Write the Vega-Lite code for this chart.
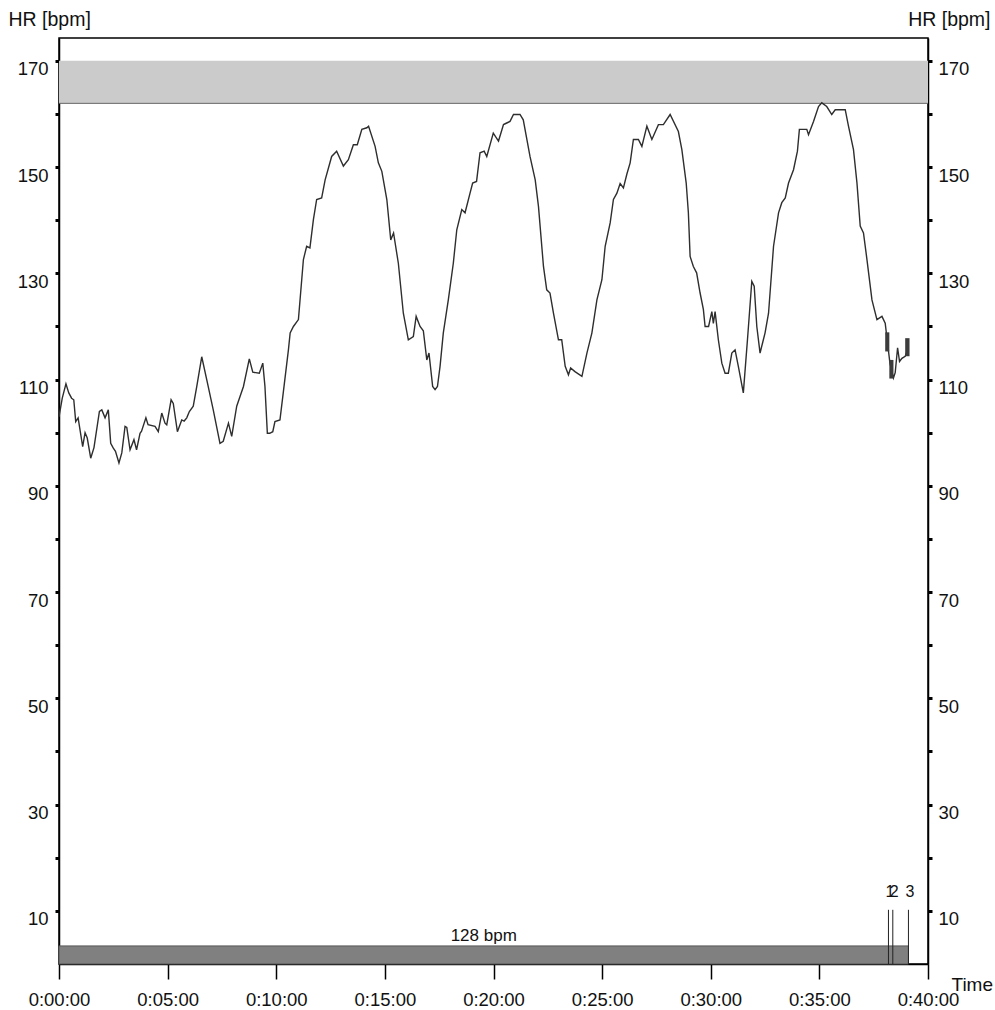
{
  "$schema": "https://vega.github.io/schema/vega-lite/v6.json",
  "width": 869,
  "height": 926,
  "autosize": {"type": "none"},
  "padding": {"left": 59, "top": 38, "right": 67, "bottom": 46},
  "background": "white",
  "config": {
    "font": "Liberation Sans",
    "view": {"stroke": "#000", "strokeWidth": 1.5},
    "axis": {
      "domainColor": "#000",
      "domainWidth": 1.5,
      "tickColor": "#000",
      "labelColor": "#111",
      "titleColor": "#111",
      "labelFont": "Liberation Sans",
      "titleFont": "Liberation Sans",
      "titleFontWeight": "normal",
      "grid": false,
      "labelOverlap": false,
      "labelFlush": false,
      "labelBound": false
    }
  },
  "datasets": {
    "hr": [
      {"t": 0.00, "hr": 103.0}, {"t": 0.15, "hr": 106.5}, {"t": 0.32, "hr": 109.2}, {"t": 0.45, "hr": 107.5},
      {"t": 0.58, "hr": 106.5}, {"t": 0.68, "hr": 106.2}, {"t": 0.77, "hr": 102.1}, {"t": 0.88, "hr": 102.8},
      {"t": 1.09, "hr": 97.4}, {"t": 1.20, "hr": 100.0}, {"t": 1.30, "hr": 99.0}, {"t": 1.46, "hr": 95.2},
      {"t": 1.61, "hr": 97.2}, {"t": 1.86, "hr": 104.0}, {"t": 1.97, "hr": 104.3}, {"t": 2.12, "hr": 102.8},
      {"t": 2.27, "hr": 104.3}, {"t": 2.38, "hr": 98.0}, {"t": 2.50, "hr": 97.1}, {"t": 2.60, "hr": 96.5},
      {"t": 2.76, "hr": 94.3}, {"t": 2.89, "hr": 96.2}, {"t": 3.04, "hr": 101.2}, {"t": 3.12, "hr": 101.0},
      {"t": 3.27, "hr": 96.8}, {"t": 3.45, "hr": 98.7}, {"t": 3.57, "hr": 96.8}, {"t": 3.73, "hr": 99.9},
      {"t": 3.80, "hr": 100.3}, {"t": 4.00, "hr": 102.8}, {"t": 4.10, "hr": 101.5}, {"t": 4.42, "hr": 101.2},
      {"t": 4.57, "hr": 100.2}, {"t": 4.73, "hr": 103.7}, {"t": 4.88, "hr": 101.8}, {"t": 4.96, "hr": 101.5},
      {"t": 5.16, "hr": 106.2}, {"t": 5.26, "hr": 105.5}, {"t": 5.45, "hr": 100.2}, {"t": 5.65, "hr": 102.4},
      {"t": 5.76, "hr": 102.2}, {"t": 5.88, "hr": 102.8}, {"t": 6.00, "hr": 104.0}, {"t": 6.18, "hr": 105.0},
      {"t": 6.34, "hr": 108.7}, {"t": 6.57, "hr": 114.3}, {"t": 6.80, "hr": 110.0}, {"t": 7.10, "hr": 104.3},
      {"t": 7.41, "hr": 98.0}, {"t": 7.56, "hr": 98.4}, {"t": 7.80, "hr": 101.8}, {"t": 7.95, "hr": 99.3},
      {"t": 8.18, "hr": 105.0}, {"t": 8.49, "hr": 108.7}, {"t": 8.76, "hr": 113.9}, {"t": 8.92, "hr": 111.4},
      {"t": 9.22, "hr": 111.2}, {"t": 9.38, "hr": 113.1}, {"t": 9.48, "hr": 108.7}, {"t": 9.59, "hr": 99.9},
      {"t": 9.70, "hr": 99.9}, {"t": 9.84, "hr": 100.2}, {"t": 9.94, "hr": 102.1}, {"t": 10.17, "hr": 102.4},
      {"t": 10.33, "hr": 107.8}, {"t": 10.56, "hr": 115.6}, {"t": 10.64, "hr": 118.8}, {"t": 10.79, "hr": 120.0},
      {"t": 11.02, "hr": 121.3}, {"t": 11.25, "hr": 132.6}, {"t": 11.40, "hr": 135.1}, {"t": 11.55, "hr": 134.8},
      {"t": 11.71, "hr": 140.1}, {"t": 11.86, "hr": 143.9}, {"t": 12.09, "hr": 144.2}, {"t": 12.25, "hr": 147.6},
      {"t": 12.55, "hr": 152.0}, {"t": 12.78, "hr": 153.0}, {"t": 13.09, "hr": 150.2}, {"t": 13.32, "hr": 151.4},
      {"t": 13.55, "hr": 154.2}, {"t": 13.73, "hr": 154.2}, {"t": 13.94, "hr": 157.1}, {"t": 14.17, "hr": 157.4},
      {"t": 14.25, "hr": 157.7}, {"t": 14.55, "hr": 153.9}, {"t": 14.70, "hr": 150.8}, {"t": 14.86, "hr": 149.2},
      {"t": 15.09, "hr": 143.9}, {"t": 15.27, "hr": 136.3}, {"t": 15.40, "hr": 137.6}, {"t": 15.62, "hr": 131.9},
      {"t": 15.85, "hr": 122.5}, {"t": 16.08, "hr": 117.5}, {"t": 16.31, "hr": 118.1}, {"t": 16.44, "hr": 121.9},
      {"t": 16.62, "hr": 120.0}, {"t": 16.77, "hr": 119.2}, {"t": 16.93, "hr": 113.7}, {"t": 17.03, "hr": 115.0},
      {"t": 17.20, "hr": 108.7}, {"t": 17.31, "hr": 108.1}, {"t": 17.42, "hr": 108.7}, {"t": 17.54, "hr": 112.5},
      {"t": 17.69, "hr": 118.8}, {"t": 17.92, "hr": 125.0}, {"t": 18.15, "hr": 131.9}, {"t": 18.31, "hr": 138.2},
      {"t": 18.54, "hr": 142.0}, {"t": 18.69, "hr": 141.4}, {"t": 18.92, "hr": 145.1}, {"t": 19.04, "hr": 147.0},
      {"t": 19.22, "hr": 147.3}, {"t": 19.38, "hr": 152.7}, {"t": 19.57, "hr": 153.0}, {"t": 19.69, "hr": 152.0},
      {"t": 19.99, "hr": 156.4}, {"t": 20.23, "hr": 154.9}, {"t": 20.46, "hr": 158.0}, {"t": 20.61, "hr": 158.3},
      {"t": 20.76, "hr": 158.6}, {"t": 20.92, "hr": 159.9}, {"t": 21.22, "hr": 159.9}, {"t": 21.37, "hr": 158.9},
      {"t": 21.68, "hr": 152.0}, {"t": 21.92, "hr": 147.6}, {"t": 22.07, "hr": 142.6}, {"t": 22.30, "hr": 131.3},
      {"t": 22.45, "hr": 126.9}, {"t": 22.60, "hr": 126.3}, {"t": 22.76, "hr": 122.5}, {"t": 22.99, "hr": 117.5},
      {"t": 23.14, "hr": 117.5}, {"t": 23.30, "hr": 112.5}, {"t": 23.45, "hr": 110.9}, {"t": 23.55, "hr": 112.2},
      {"t": 23.75, "hr": 111.5}, {"t": 24.07, "hr": 110.6}, {"t": 24.30, "hr": 115.0}, {"t": 24.53, "hr": 118.8},
      {"t": 24.76, "hr": 125.0}, {"t": 24.99, "hr": 128.8}, {"t": 25.14, "hr": 135.1}, {"t": 25.37, "hr": 139.5},
      {"t": 25.52, "hr": 143.9}, {"t": 25.68, "hr": 145.1}, {"t": 25.83, "hr": 146.9}, {"t": 25.98, "hr": 146.1},
      {"t": 26.14, "hr": 148.7}, {"t": 26.29, "hr": 150.8}, {"t": 26.44, "hr": 155.2}, {"t": 26.67, "hr": 155.2},
      {"t": 26.83, "hr": 153.9}, {"t": 27.06, "hr": 157.7}, {"t": 27.29, "hr": 155.2}, {"t": 27.59, "hr": 158.0},
      {"t": 27.82, "hr": 158.0}, {"t": 28.13, "hr": 159.9}, {"t": 28.51, "hr": 156.7}, {"t": 28.67, "hr": 153.3},
      {"t": 28.87, "hr": 147.0}, {"t": 28.97, "hr": 141.4}, {"t": 29.05, "hr": 133.2}, {"t": 29.20, "hr": 131.3},
      {"t": 29.35, "hr": 130.1}, {"t": 29.51, "hr": 126.3}, {"t": 29.66, "hr": 123.2}, {"t": 29.74, "hr": 120.0},
      {"t": 29.90, "hr": 120.0}, {"t": 30.05, "hr": 122.8}, {"t": 30.12, "hr": 120.6}, {"t": 30.20, "hr": 122.8},
      {"t": 30.35, "hr": 117.5}, {"t": 30.51, "hr": 113.1}, {"t": 30.66, "hr": 111.2}, {"t": 30.81, "hr": 111.2},
      {"t": 30.97, "hr": 115.0}, {"t": 31.12, "hr": 115.6}, {"t": 31.27, "hr": 112.5}, {"t": 31.50, "hr": 107.5},
      {"t": 31.69, "hr": 117.5}, {"t": 31.89, "hr": 128.5}, {"t": 32.00, "hr": 127.6}, {"t": 32.12, "hr": 120.0},
      {"t": 32.27, "hr": 115.0}, {"t": 32.50, "hr": 118.8}, {"t": 32.66, "hr": 122.5}, {"t": 32.89, "hr": 135.1},
      {"t": 33.12, "hr": 141.4}, {"t": 33.27, "hr": 143.3}, {"t": 33.43, "hr": 144.2}, {"t": 33.58, "hr": 147.0},
      {"t": 33.81, "hr": 149.5}, {"t": 33.99, "hr": 153.0}, {"t": 34.08, "hr": 157.1}, {"t": 34.42, "hr": 157.1},
      {"t": 34.50, "hr": 156.1}, {"t": 34.73, "hr": 158.6}, {"t": 34.96, "hr": 161.4}, {"t": 35.11, "hr": 162.1},
      {"t": 35.34, "hr": 161.4}, {"t": 35.57, "hr": 159.9}, {"t": 35.73, "hr": 160.8}, {"t": 36.19, "hr": 160.8},
      {"t": 36.34, "hr": 157.7}, {"t": 36.57, "hr": 153.3}, {"t": 36.73, "hr": 147.0}, {"t": 36.88, "hr": 138.9},
      {"t": 37.03, "hr": 137.6}, {"t": 37.19, "hr": 132.6}, {"t": 37.42, "hr": 125.0}, {"t": 37.65, "hr": 121.3},
      {"t": 37.88, "hr": 121.9}, {"t": 38.03, "hr": 120.6}, {"t": 38.12, "hr": 117.5}, {"t": 38.25, "hr": 113.0},
      {"t": 38.41, "hr": 110.3}, {"t": 38.49, "hr": 111.3}, {"t": 38.60, "hr": 116.0}, {"t": 38.69, "hr": 113.4},
      {"t": 38.80, "hr": 114.0}, {"t": 38.95, "hr": 114.4}, {"t": 39.10, "hr": 116.0}
    ],
    "laps": [
      {"t": 38.18, "lap": "1"},
      {"t": 38.38, "lap": "2"},
      {"t": 39.10, "lap": "3"}
    ],
    "blocks": [
      {"t0": 38.03, "t1": 38.22, "lo": 115.3, "hi": 118.9},
      {"t0": 38.22, "t1": 38.41, "lo": 110.2, "hi": 113.7},
      {"t0": 38.95, "t1": 39.15, "lo": 114.4, "hi": 117.8}
    ],
    "zone": [{"t0": 0, "t1": 40, "lo": 162, "hi": 170}],
    "avg": [{"t0": 0, "t1": 39.1, "lo": 0, "hi": 3.4, "tm": 19.55, "ty": 4.3, "label": "128 bpm"}]
  },
  "layer": [
    {
      "data": {"name": "zone"},
      "mark": {"type": "rect", "fill": "#cbcbcb"},
      "encoding": {
        "x": {
          "field": "t0", "type": "quantitative",
          "scale": {"domain": [0, 40], "nice": false, "zero": false},
          "title": "Time",
          "axis": {
            "orient": "bottom",
            "values": [0, 5, 10, 15, 20, 25, 30, 35, 40],
            "labelExpr": "'0:' + (datum.value < 10 ? '0' : '') + datum.value + ':00'",
            "tickSize": 15, "tickWidth": 1.5,
            "labelFontSize": 18.5, "labelBaseline": "alphabetic", "labelPadding": 26, "labelAlign": "center",
            "titleFontSize": 19, "titleX": 892, "titleY": 26, "titleAlign": "left", "titleBaseline": "alphabetic"
          }
        },
        "x2": {"field": "t1"},
        "y": {
          "field": "lo", "type": "quantitative",
          "scale": {"domain": [0, 174.3], "nice": false, "zero": true},
          "title": "HR [bpm]",
          "axis": {
            "orient": "left",
            "values": [10, 20, 30, 40, 50, 60, 70, 80, 90, 100, 110, 120, 130, 140, 150, 160, 170],
            "labelExpr": "datum.value % 20 == 10 ? datum.value : ''",
            "tickSize": 4, "tickWidth": 3,
            "labelFontSize": 18.5, "labelBaseline": "alphabetic", "labelOffset": 14, "labelPadding": 7,
            "titleAngle": 0, "titleFontSize": 19.5, "titleX": -51, "titleY": -13, "titleAlign": "left", "titleBaseline": "alphabetic"
          }
        },
        "y2": {"field": "hi"}
      }
    },
    {
      "data": {"name": "zone"},
      "mark": {"type": "rule", "stroke": "#666", "strokeWidth": 1},
      "encoding": {
        "x": {"field": "t0", "type": "quantitative", "title": "Time", "scale": {"domain": [0, 40], "nice": false, "zero": false}},
        "x2": {"field": "t1"},
        "y": {"field": "lo", "type": "quantitative", "axis": null, "scale": {"domain": [0, 174.3], "nice": false}}
      }
    },
    {
      "data": {"name": "avg"},
      "mark": {"type": "rect", "fill": "#808080", "stroke": "#555", "strokeWidth": 1},
      "encoding": {
        "x": {"field": "t0", "type": "quantitative", "title": "Time", "scale": {"domain": [0, 40], "nice": false, "zero": false}},
        "x2": {"field": "t1"},
        "y": {"field": "lo", "type": "quantitative", "axis": null, "scale": {"domain": [0, 174.3], "nice": false}},
        "y2": {"field": "hi"}
      }
    },
    {
      "data": {"name": "avg"},
      "mark": {"type": "text", "fontSize": 17, "font": "Liberation Sans", "color": "#111", "align": "center", "baseline": "alphabetic"},
      "encoding": {
        "x": {"field": "tm", "type": "quantitative", "title": "Time", "scale": {"domain": [0, 40], "nice": false, "zero": false}},
        "y": {"field": "ty", "type": "quantitative", "axis": null, "scale": {"domain": [0, 174.3], "nice": false}},
        "text": {"field": "label"}
      }
    },
    {
      "data": {"name": "laps"},
      "mark": {"type": "rule", "stroke": "#222", "strokeWidth": 1},
      "encoding": {
        "x": {"field": "t", "type": "quantitative", "title": "Time", "scale": {"domain": [0, 40], "nice": false, "zero": false}},
        "y": {"datum": 0, "type": "quantitative", "axis": null, "scale": {"domain": [0, 174.3], "nice": false}},
        "y2": {"datum": 10.2}
      }
    },
    {
      "data": {"name": "laps"},
      "mark": {"type": "text", "fontSize": 16, "font": "Liberation Sans", "color": "#111", "align": "center", "baseline": "alphabetic", "dx": 1.5},
      "encoding": {
        "x": {"field": "t", "type": "quantitative", "title": "Time", "scale": {"domain": [0, 40], "nice": false, "zero": false}},
        "y": {"datum": 12.7, "type": "quantitative", "axis": null, "scale": {"domain": [0, 174.3], "nice": false}},
        "text": {"field": "lap"}
      }
    },
    {
      "data": {"name": "hr"},
      "mark": {"type": "line", "stroke": "#2e2e2e", "strokeWidth": 1.4},
      "encoding": {
        "x": {"field": "t", "type": "quantitative", "title": "Time", "scale": {"domain": [0, 40], "nice": false, "zero": false}},
        "y": {
          "field": "hr", "type": "quantitative",
          "scale": {"domain": [0, 174.3], "nice": false},
          "title": "HR [bpm]",
          "axis": {
            "orient": "right",
            "values": [10, 20, 30, 40, 50, 60, 70, 80, 90, 100, 110, 120, 130, 140, 150, 160, 170],
            "labelExpr": "datum.value % 20 == 10 ? datum.value : ''",
            "tickSize": 4, "tickWidth": 3,
            "labelFontSize": 18.5, "labelBaseline": "alphabetic", "labelOffset": 14, "labelPadding": 6,
            "titleAngle": 0, "titleFontSize": 19.5, "titleX": 62, "titleY": -13, "titleAlign": "right", "titleBaseline": "alphabetic"
          }
        }
      }
    },
    {
      "data": {"name": "blocks"},
      "mark": {"type": "rect", "fill": "#3c3c3c"},
      "encoding": {
        "x": {"field": "t0", "type": "quantitative", "title": "Time", "scale": {"domain": [0, 40], "nice": false, "zero": false}},
        "x2": {"field": "t1"},
        "y": {"field": "lo", "type": "quantitative", "axis": null, "scale": {"domain": [0, 174.3], "nice": false}},
        "y2": {"field": "hi"}
      }
    }
  ],
  "resolve": {"axis": {"y": "independent"}}
}
